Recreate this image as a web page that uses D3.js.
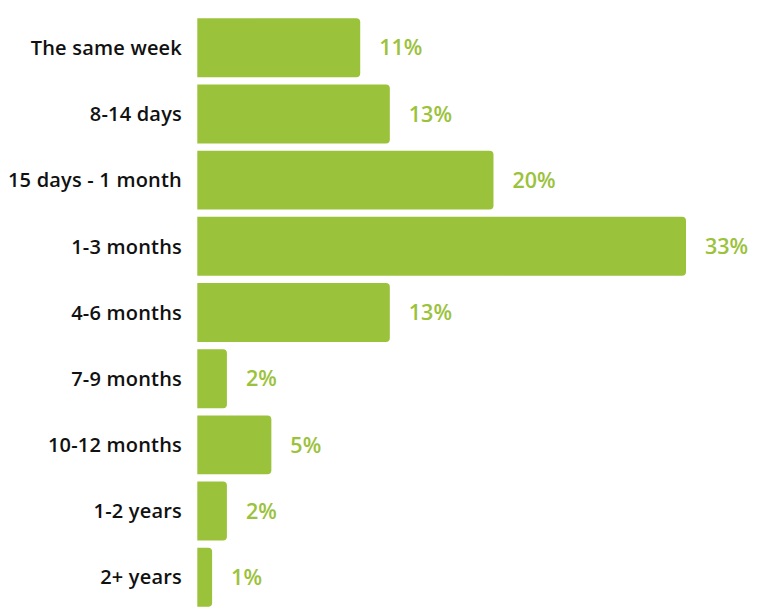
<!DOCTYPE html>
<html><head><meta charset="utf-8">
<script src="https://cdn.jsdelivr.net/npm/d3@7"></script>
<style>body{margin:0;background:#fff;} svg{display:block;}</style>
</head><body>
<svg id="chart" width="768" height="616"></svg>
<script>
const categories = ["The same week","8-14 days","15 days - 1 month","1-3 months","4-6 months","7-9 months","10-12 months","1-2 years","2+ years"];
const values = [11,13,20,33,13,2,5,2,1];

const svg = d3.select("#chart");
const x = d3.scaleLinear().domain([0,33]).range([197.3,686]);
const y = d3.scaleBand().domain(categories).range([18.3,606.7]).paddingInner(0.11).paddingOuter(0);
const green = "#9bc23b";
const r = 4;

const g = svg.append("g");
const rows = g.selectAll("g.row").data(categories.map((c,i)=>({c,v:values[i]}))).join("g");

rows.append("path")
  .attr("fill", green)
  .attr("d", d => {
    const x0 = x(0), x1 = x(d.v), y0 = y(d.c), h = y.bandwidth();
    const rr = Math.min(r, (x1-x0)/2);
    return `M${x0},${y0}H${x1-rr}Q${x1},${y0} ${x1},${y0+rr}V${y0+h-rr}Q${x1},${y0+h} ${x1-rr},${y0+h}H${x0}Z`;
  });

rows.append("text")
  .attr("x", 182)
  .attr("y", d => y(d.c) + y.bandwidth()/2)
  .attr("dy", "0.36em")
  .attr("text-anchor", "end")
  .attr("font-family", "Open Sans, sans-serif")
  .attr("font-weight", 600)
  .attr("font-size", 20)
  .attr("letter-spacing", 0.2)
  .attr("fill", "#111")
  .text(d => d.c);

rows.append("text")
  .attr("x", d => x(d.v) + 19)
  .attr("y", d => y(d.c) + y.bandwidth()/2)
  .attr("dy", "0.36em")
  .attr("font-family", "Open Sans, sans-serif")
  .attr("font-weight", 600)
  .attr("font-size", 21.5)
  .attr("fill", green)
  .text(d => d.v + "%");
</script>
</body></html>
